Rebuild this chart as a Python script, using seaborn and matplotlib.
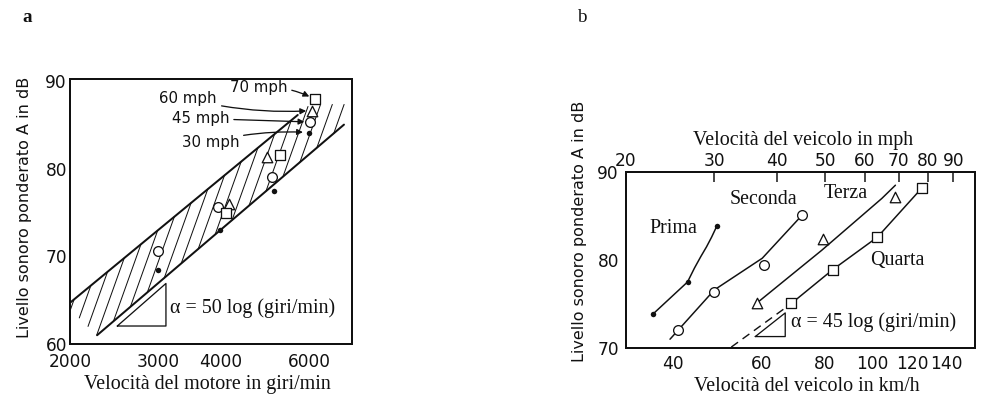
"""
Livello sonoro ponderato A vs velocita del motore / del veicolo
(two panels, a and b)
"""

# =============================================================================
# IMPORTS
# =============================================================================

import numpy as np
import matplotlib
matplotlib.use("Agg")
import matplotlib.pyplot as plt
from matplotlib.ticker import NullLocator
import seaborn as sns


# =============================================================================
# CONFIGURATION
# =============================================================================

OUT_FILE = "out.png"
DPI = 72

sns.set_style("white")
plt.rcParams["font.family"] = ["DejaVu Sans"]

SERIF = ["Liberation Serif", "DejaVu Serif"]
SANS = ["DejaVu Sans"]
INK = "#111111"


# =============================================================================
# DATA - PANEL A
# =============================================================================

rpm_ticks = [2000, 3000, 4000, 5000, 6000]
rpm_tick_labels = ["2000", "3000", "4000", "", "6000"]
db_ticks_a = [60, 70, 80, 90]

# band limits
band_upper_rpm = [2000, 5690]
band_upper_db = [64.7, 86.1]
band_lower_rpm = [2265, 7036]
band_lower_db = [61.0, 85.0]

# hatching: steep strokes inside the band
hatch_slope = 160        # dB per decade of giri/min (drawing angle)
hatch_step = 0.0235      # decades between strokes
hatch_top_db = 87.3
hatch_cut_rpm = [2000, 2265]   # lower-left edge of the hatched area
hatch_cut_db = [64.0, 61.0]
hatch_last_rpm = 6800

# measured points (marker = gear)
prima_rpm = [3000, 3980, 5100, 5990]
prima_db_a = [68.4, 73.0, 77.4, 84.1]
seconda_rpm = [3000, 3950, 5050, 6030]
seconda_db_a = [70.6, 75.6, 79.0, 85.3]
terza_rpm = [4150, 4950, 6080]
terza_db_a = [76.0, 81.3, 86.6]
quarta_rpm = [4100, 5250, 6150]
quarta_db_a = [74.9, 81.5, 87.9]

speed_labels = ["70 mph", "60 mph", "45 mph", "30 mph"]

slope_a_rpm = [2485, 3107]
slope_a_db0 = 62.05
slope_a = 50


# =============================================================================
# DATA - PANEL B
# =============================================================================

kmh_ticks = [40, 50, 60, 70, 80, 90, 100, 120, 140]
kmh_tick_labels = ["40", "", "60", "", "80", "", "100", "120", "140"]
mph_ticks = [20, 30, 40, 50, 60, 70, 80, 90]
db_ticks_b = [70, 80, 90]

gear_names = ["Prima", "Seconda", "Terza", "Quarta"]

# curves
prima_line_kmh = [36.5, 42.7, 44.1, 45.4, 46.6, 47.7, 48.9]
prima_line_db = [73.9, 77.5, 79.1, 80.4, 81.5, 82.6, 83.9]
seconda_line_kmh = [39.4, 48.3, 60.2, 72.3]
seconda_line_db = [71.0, 76.6, 80.2, 85.1]
terza_line_kmh = [58.7, 79.1, 104.3, 111.0]
terza_line_db = [75.1, 81.1, 87.0, 88.5]
quarta_line_kmh = [68.6, 83.2, 102.2, 123.6, 126.8]
quarta_line_db = [75.0, 78.9, 82.6, 87.8, 88.3]
quarta_dash_kmh = [52.2, 68.6]
quarta_dash_db = [70.1, 75.0]

# markers
prima_kmh = [36.5, 42.7, 48.9]
prima_db_b = [73.9, 77.5, 83.9]
seconda_kmh = [40.9, 48.3, 60.6, 72.3]
seconda_db_b = [72.1, 76.4, 79.4, 85.1]
terza_kmh = [58.7, 79.6, 110.9]
terza_db_b = [75.1, 82.4, 87.2]
quarta_kmh = [68.6, 83.2, 102.2, 125.5]
quarta_db_b = [75.1, 78.9, 82.6, 88.2]

slope_b_kmh = [58.3, 66.9]
slope_b_db0 = 71.3
slope_b = 45

KMH_PER_MPH = 1.609344


# =============================================================================
# HELPER FUNCTIONS
# =============================================================================

def kmh_to_mph(x):
    return np.asarray(x) / KMH_PER_MPH


def mph_to_kmh(x):
    return np.asarray(x) * KMH_PER_MPH


def line_coeffs(xs, ys):
    """Straight line y = a + b*log10(x) through two points."""
    u = np.log10(xs)
    b = (ys[1] - ys[0]) / (u[1] - u[0])
    return ys[0] - b * u[0], b


def meet(a, b, uk, s):
    """dB where stroke u = uk + (y - 60)/s crosses y = a + b*u."""
    return (a + b * uk - 60 * b / s) / (1 - b / s)


def hatch_strokes(ax):
    """Steep hatch strokes between the lower and upper band lines."""
    a1, b1 = line_coeffs(band_lower_rpm, band_lower_db)
    a2, b2 = line_coeffs(band_upper_rpm, band_upper_db)
    a3, b3 = line_coeffs(hatch_cut_rpm, hatch_cut_db)
    s = hatch_slope
    xs, ys = [], []
    for uk in np.arange(np.log10(1700), np.log10(7036), hatch_step):
        y_lo = max(meet(a1, b1, uk, s), meet(a3, b3, uk, s))
        y_hi = min(meet(a2, b2, uk, s), hatch_top_db)
        u_lo = uk + (y_lo - 60) / s
        if y_hi <= y_lo or u_lo > np.log10(hatch_last_rpm):
            continue
        u_hi = uk + (y_hi - 60) / s
        xs += [10 ** u_lo, 10 ** u_hi, np.nan]
        ys += [y_lo, y_hi, np.nan]
    ax.plot(xs, ys, color=INK, lw=1.0)


def style_axes(ax):
    for side in ["left", "right", "top", "bottom"]:
        ax.spines[side].set_visible(True)
        ax.spines[side].set_linewidth(2)
        ax.spines[side].set_color(INK)
    ax.tick_params(direction="in", length=11, width=1.5, colors=INK,
                   labelsize=17)
    ax.tick_params(axis="x", pad=7)
    ax.tick_params(axis="y", pad=3)
    ax.xaxis.set_minor_locator(NullLocator())


def slope_triangle(ax, xs, y0, slope):
    y1 = y0 + slope * np.log10(xs[1] / xs[0])
    tri_x = [xs[0], xs[1], xs[1], xs[0]]
    tri_y = [y0, y0, y1, y0]
    sns.lineplot(x=tri_x, y=tri_y, ax=ax, color=INK, lw=1.3,
                 estimator=None, sort=False)


def gear_markers(ax, xs, ys, marker):
    if marker == "dot":
        sns.scatterplot(x=xs, y=ys, ax=ax, marker="o", s=30,
                        color=INK, linewidth=0, zorder=4)
    else:
        size = {"o": 95, "^": 110, "s": 90}[marker]
        sns.scatterplot(x=xs, y=ys, ax=ax, marker=marker, s=size,
                        facecolor="white", edgecolor=INK, linewidth=1.3,
                        zorder=4)


# =============================================================================
# FIGURE
# =============================================================================

fig = plt.figure(figsize=(991 / DPI, 396 / DPI), dpi=DPI)

ax_a = fig.add_axes([70 / 991, 1 - 344 / 396, 282 / 991, 265 / 396])
ax_b = fig.add_axes([626 / 991, 1 - 348 / 396, 349 / 991, 176 / 396])


# =============================================================================
# PANEL A
# =============================================================================

ax_a.set_xscale("log")

hatch_strokes(ax_a)

sns.lineplot(x=band_upper_rpm, y=band_upper_db, ax=ax_a, color=INK, lw=2)
sns.lineplot(x=band_lower_rpm, y=band_lower_db, ax=ax_a, color=INK, lw=2)

gear_markers(ax_a, prima_rpm, prima_db_a, "dot")
gear_markers(ax_a, seconda_rpm, seconda_db_a, "o")
gear_markers(ax_a, terza_rpm, terza_db_a, "^")
gear_markers(ax_a, quarta_rpm, quarta_db_a, "s")

slope_triangle(ax_a, slope_a_rpm, slope_a_db0, slope_a)
ax_a.text(3170, 64.1, "α = 50 log (giri/min)", family=SERIF,
          fontsize=20, va="center", ha="left", color=INK)

# speed arrows, pointing at the last point of each gear
speed_targets = [
    (quarta_rpm[-1], quarta_db_a[-1]),
    (terza_rpm[-1], terza_db_a[-1]),
    (seconda_rpm[-1], seconda_db_a[-1]),
    (prima_rpm[-1], prima_db_a[-1]),
]
speed_text_pos = [(4753, 89.2), (3443, 87.95), (3642, 85.7), (3809, 83.0)]
speed_rad = [-0.15, 0.08, 0.0, -0.08]

for label, target, pos, rad in zip(speed_labels, speed_targets,
                                   speed_text_pos, speed_rad):
    ax_a.annotate(
        label, xy=target, xytext=pos,
        ha="center", va="center", fontsize=15, family=SANS, color=INK,
        arrowprops=dict(arrowstyle="-|>", color=INK, lw=1.3,
                        shrinkA=2, shrinkB=6, mutation_scale=12,
                        connectionstyle=f"arc3,rad={rad}"),
    )

ax_a.set_xlim(2000, 7300)
ax_a.set_ylim(60, 90.2)
style_axes(ax_a)
ax_a.tick_params(axis="x", pad=9)
ax_a.set_xticks(rpm_ticks, labels=rpm_tick_labels)
ax_a.set_yticks(db_ticks_a)

ax_a.set_xlabel("Velocità del motore in giri/min", family=SERIF,
                fontsize=20, color=INK)
ax_a.set_ylabel("Livello sonoro ponderato A in dB", family=SANS,
                fontsize=16, color=INK)
ax_a.xaxis.set_label_coords(0.486, -0.118)
ax_a.yaxis.set_label_coords(-0.135, 0.517)


# =============================================================================
# PANEL B
# =============================================================================

ax_b.set_xscale("log")

gear_lines = [
    (prima_line_kmh, prima_line_db),
    (seconda_line_kmh, seconda_line_db),
    (terza_line_kmh, terza_line_db),
    (quarta_line_kmh, quarta_line_db),
]
for xs, ys in gear_lines:
    sns.lineplot(x=xs, y=ys, ax=ax_b, color=INK, lw=1.5,
                 estimator=None, sort=False)

ax_b.plot(quarta_dash_kmh, quarta_dash_db, color=INK, lw=1.4,
          dashes=(6, 4))

gear_markers(ax_b, prima_kmh, prima_db_b, "dot")
gear_markers(ax_b, seconda_kmh, seconda_db_b, "o")
gear_markers(ax_b, terza_kmh, terza_db_b, "^")
gear_markers(ax_b, quarta_kmh, quarta_db_b, "s")

gear_label_pos = [(40.0, 83.6), (60.5, 86.9), (88.3, 87.6), (111.8, 80.0)]
for name, (gx, gy) in zip(gear_names, gear_label_pos):
    ax_b.text(gx, gy, name, family=SERIF, fontsize=20, ha="center",
              va="center", color=INK)

slope_triangle(ax_b, slope_b_kmh, slope_b_db0, slope_b)
ax_b.text(68.6, 72.95, "α = 45 log (giri/min)", family=SERIF,
          fontsize=20, va="center", ha="left", color=INK)

ax_b.set_xlim(20 * KMH_PER_MPH, 160)
ax_b.set_ylim(70, 90)
style_axes(ax_b)
ax_b.tick_params(axis="y", pad=7)
ax_b.set_xticks(kmh_ticks, labels=kmh_tick_labels)
ax_b.set_yticks(db_ticks_b)

top = ax_b.secondary_xaxis("top", functions=(kmh_to_mph, mph_to_kmh))
top.set_xticks(mph_ticks, labels=[str(t) for t in mph_ticks])
top.xaxis.set_minor_locator(NullLocator())
top.tick_params(direction="in", length=10, width=1.5, colors=INK,
                labelsize=17, pad=2)
top.spines["top"].set_linewidth(2)
top.set_xlabel("Velocità del veicolo in mph", family=SERIF, fontsize=20,
               color=INK)
top.xaxis.set_label_coords(0.507, 1.155, transform=ax_b.transAxes)

ax_b.set_xlabel("Velocità del veicolo in km/h", family=SERIF,
                fontsize=20, color=INK)
ax_b.set_ylabel("Livello sonoro ponderato A in dB", family=SANS,
                fontsize=16, color=INK)
ax_b.xaxis.set_label_coords(0.519, -0.165)
ax_b.yaxis.set_label_coords(-0.112, 0.66)


# =============================================================================
# PANEL LETTERS + SAVE
# =============================================================================

fig.text(27 / 991, 1 - 17 / 396, "a", family=SERIF, fontsize=19,
         fontweight="bold", ha="center", va="center", color=INK)
fig.text(582 / 991, 1 - 17 / 396, "b", family=SERIF, fontsize=19,
         ha="center", va="center", color=INK)

fig.savefig(OUT_FILE, dpi=DPI, facecolor="white")
print(f"Saved: {OUT_FILE}")
